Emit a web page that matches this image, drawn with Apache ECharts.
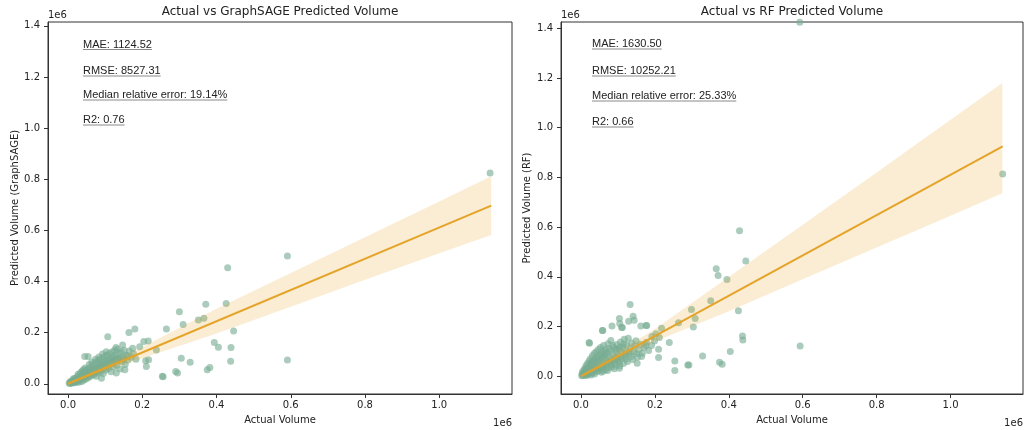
<!DOCTYPE html>
<html>
<head>
<meta charset="utf-8">
<script src="https://cdn.jsdelivr.net/npm/echarts@6/dist/echarts.min.js"></script>
<style>
  html, body { margin: 0; padding: 0; background: #fff; }
  #main { width: 1024px; height: 430px; }
</style>
</head>
<body>
<div id="main"></div>
<script>
// values are in units of 1e6 (matching the axis offset text)
const ticks = [0, 0.2, 0.4, 0.6, 0.8, 1.0];
const yTicks = [0, 0.2, 0.4, 0.6, 0.8, 1.0, 1.2, 1.4];

const sagePoints = [
    [0.003,0.002],[0.005,0.007],[0.006,0.001],[0.008,0.004],[0.009,0.011],[0.011,0.003],[0.012,0.008],[0.014,0.013],
    [0.015,0.005],[0.017,0.019],[0.018,0.010],[0.019,0.004],[0.021,0.016],[0.022,0.023],[0.024,0.008],[0.025,0.013],
    [0.026,0.029],[0.028,0.018],[0.029,0.006],[0.031,0.024],[0.032,0.012],[0.033,0.034],[0.035,0.019],[0.036,0.027],
    [0.037,0.009],[0.039,0.040],[0.040,0.022],[0.041,0.031],[0.043,0.015],[0.044,0.046],[0.045,0.027],[0.047,0.036],
    [0.048,0.019],[0.049,0.052],[0.051,0.031],[0.052,0.041],[0.054,0.024],[0.055,0.060],[0.056,0.035],[0.058,0.047],
    [0.059,0.028],[0.061,0.066],[0.062,0.040],[0.063,0.053],[0.065,0.033],[0.066,0.073],[0.068,0.045],[0.069,0.058],
    [0.071,0.037],[0.072,0.081],[0.073,0.050],[0.075,0.064],[0.076,0.029],[0.078,0.088],[0.079,0.055],[0.081,0.070],
    [0.082,0.043],[0.084,0.094],[0.086,0.061],[0.087,0.077],[0.089,0.048],[0.091,0.099],[0.092,0.066],[0.094,0.083],
    [0.095,0.040],[0.097,0.106],[0.099,0.071],[0.100,0.089],[0.102,0.054],[0.104,0.112],[0.105,0.077],[0.107,0.094],
    [0.109,0.060],[0.111,0.118],[0.112,0.083],[0.114,0.101],[0.116,0.047],[0.118,0.124],[0.119,0.088],[0.121,0.108],
    [0.123,0.066],[0.125,0.130],[0.127,0.094],[0.129,0.113],[0.131,0.072],[0.133,0.136],[0.136,0.099],[0.138,0.119],
    [0.140,0.058],[0.143,0.125],[0.145,0.087],[0.148,0.106],[0.151,0.131],[0.154,0.075],[0.157,0.112],[0.161,0.093],
    [0.165,0.128],[0.170,0.104],[0.176,0.118],[0.183,0.096],
    [0.010,0.007],[0.020,0.010],[0.030,0.017],[0.040,0.028],[0.050,0.038],[0.060,0.044],[0.070,0.051],[0.080,0.062],
    [0.090,0.072],[0.100,0.078],[0.110,0.090],[0.120,0.097],[0.130,0.100],[0.015,0.021],[0.027,0.037],[0.038,0.050],
    [0.046,0.062],[0.057,0.075],[0.064,0.085],[0.074,0.096],[0.083,0.105],[0.093,0.116],[0.103,0.125],[0.034,0.044],
    [0.042,0.056],[0.067,0.042],[0.077,0.047],[0.088,0.058],[0.098,0.064],[0.108,0.070],[0.117,0.078],[0.126,0.084],
    [0.135,0.090],[0.142,0.100],[0.150,0.096],[0.160,0.110],
    [0.045,0.107],[0.054,0.107],[0.090,0.022],[0.130,0.042],[0.153,0.055],[0.129,0.142],[0.147,0.152],[0.174,0.139],
    [0.193,0.145],[0.204,0.165],[0.216,0.167],[0.209,0.090],[0.217,0.094],[0.211,0.068],[0.238,0.132],[0.107,0.184],
    [0.164,0.201],[0.180,0.214],[0.265,0.214],[0.254,0.029],[0.256,0.027],[0.290,0.048],[0.295,0.042],[0.305,0.100],
    [0.329,0.084],[0.300,0.282],[0.310,0.232],[0.351,0.249],[0.366,0.256],[0.371,0.311],[0.426,0.314],[0.430,0.454],
    [0.375,0.055],[0.382,0.064],[0.394,0.161],[0.405,0.143],[0.439,0.142],[0.438,0.088],[0.446,0.206],[0.591,0.500],
    [0.591,0.093],[1.137,0.824]
];

const rfPoints = [
    [0.002,0.002],[0.003,0.009],[0.004,0.017],[0.005,0.004],[0.007,0.011],[0.008,0.026],[0.009,0.006],[0.010,0.015],
    [0.011,0.033],[0.012,0.009],[0.013,0.021],[0.014,0.044],[0.015,0.003],[0.016,0.013],[0.017,0.029],[0.018,0.052],
    [0.019,0.008],[0.020,0.020],[0.021,0.037],[0.022,0.062],[0.023,0.011],[0.024,0.026],[0.025,0.046],[0.026,0.071],
    [0.027,0.005],[0.028,0.017],[0.029,0.033],[0.030,0.056],[0.031,0.083],[0.032,0.013],[0.033,0.024],[0.034,0.041],
    [0.035,0.064],[0.036,0.092],[0.037,0.009],[0.038,0.030],[0.039,0.050],[0.040,0.073],[0.041,0.099],[0.043,0.019],
    [0.044,0.038],[0.045,0.058],[0.046,0.081],[0.047,0.108],[0.049,0.025],[0.050,0.045],[0.051,0.067],[0.052,0.090],
    [0.053,0.116],[0.055,0.016],[0.056,0.034],[0.057,0.054],[0.058,0.076],[0.059,0.100],[0.061,0.124],[0.062,0.042],
    [0.063,0.063],[0.064,0.085],[0.066,0.108],[0.067,0.027],[0.069,0.051],[0.070,0.071],[0.071,0.094],[0.073,0.131],
    [0.074,0.036],[0.076,0.059],[0.077,0.080],[0.079,0.104],[0.081,0.144],[0.082,0.046],[0.084,0.067],[0.086,0.090],
    [0.088,0.116],[0.090,0.031],[0.091,0.055],[0.093,0.076],[0.095,0.100],[0.097,0.128],[0.099,0.063],[0.101,0.084],
    [0.103,0.109],[0.105,0.043],[0.107,0.138],[0.109,0.071],[0.111,0.094],[0.113,0.118],[0.115,0.052],[0.117,0.149],
    [0.119,0.080],[0.121,0.102],[0.124,0.126],[0.126,0.060],[0.128,0.153],[0.131,0.089],[0.134,0.112],[0.137,0.134],
    [0.140,0.068],[0.143,0.099],[0.146,0.122],[0.149,0.143],[0.153,0.078],[0.157,0.106],[0.161,0.129],[0.166,0.093],
    [0.171,0.116],[0.177,0.137],[0.183,0.104],[0.191,0.124],[0.199,0.142],
    [0.010,0.004],[0.020,0.012],[0.030,0.020],[0.040,0.026],[0.050,0.034],[0.060,0.040],[0.070,0.048],[0.080,0.056],
    [0.090,0.064],[0.100,0.072],[0.110,0.080],[0.120,0.090],[0.130,0.098],[0.016,0.034],[0.026,0.050],[0.036,0.060],
    [0.046,0.070],[0.056,0.086],[0.066,0.095],[0.076,0.112],[0.086,0.124],[0.096,0.110],[0.106,0.118],[0.116,0.130],
    [0.060,0.020],[0.072,0.024],[0.084,0.038],[0.094,0.046],[0.104,0.058],[0.122,0.070],[0.136,0.080],[0.150,0.092],
    [0.022,0.136],[0.023,0.133],[0.058,0.184],[0.059,0.184],[0.084,0.202],[0.104,0.233],[0.105,0.213],[0.110,0.196],
    [0.112,0.196],[0.129,0.222],[0.133,0.289],[0.141,0.242],[0.144,0.226],[0.162,0.202],[0.176,0.204],[0.178,0.204],
    [0.152,0.053],[0.104,0.033],[0.164,0.080],[0.176,0.124],[0.192,0.160],[0.203,0.171],[0.210,0.109],[0.210,0.076],
    [0.212,0.156],[0.218,0.193],[0.239,0.136],[0.254,0.062],[0.254,0.024],[0.264,0.216],[0.289,0.046],[0.292,0.046],
    [0.299,0.269],[0.304,0.198],[0.309,0.233],[0.329,0.082],[0.351,0.304],[0.366,0.433],[0.371,0.406],[0.375,0.057],
    [0.382,0.049],[0.395,0.389],[0.404,0.100],[0.426,0.264],[0.429,0.586],[0.437,0.162],[0.438,0.146],[0.446,0.464],
    [0.593,0.122],[0.592,1.424],[1.141,0.814]
];

// regression fits and confidence bands
const sageFit = [[0, 0], [1.14, 0.697]];
const rfFit = [[0, 0], [1.141, 0.925]];
const bandX = [0, 0.2, 0.4, 0.6, 0.8, 1.0, 1.14];
const sageLow = [-0.004, 0.100, 0.197, 0.301, 0.407, 0.511, 0.582];
const sageHigh = [0.004, 0.144, 0.293, 0.433, 0.573, 0.713, 0.812];
const rfLow = [-0.006, 0.140, 0.262, 0.390, 0.518, 0.646, 0.736];
const rfHigh = [0.008, 0.190, 0.400, 0.610, 0.820, 1.032, 1.180];

const sageStats = ['MAE: 1124.52', 'RMSE: 8527.31', 'Median relative error: 19.14%', 'R2: 0.76'];
const rfStats = ['MAE: 1630.50', 'RMSE: 10252.21', 'Median relative error: 25.33%', 'R2: 0.66'];

const axisFont = 'DejaVu Sans';
const statFont = 'Liberation Sans';
const dotColor = '#78ac93';
const lineColor = '#e5a328';

const chart = echarts.init(document.getElementById('main'));

const makeX = (idx) => ({
    type: 'value', gridIndex: idx, min: -0.054, max: 1.196,
    name: 'Actual Volume', nameLocation: 'middle', nameGap: 21,
    nameTextStyle: { fontFamily: axisFont, fontSize: 10, color: '#222' },
    axisLine: { show: true, onZero: false, lineStyle: { color: '#333', width: 1 } },
    axisTick: { show: true, length: 4, customValues: ticks, lineStyle: { color: '#333' } },
    axisLabel: { customValues: ticks, margin: 6, fontFamily: axisFont, fontSize: 10, color: '#222',
        formatter: v => v.toFixed(1) },
    splitLine: { show: false }
});

const makeY = (idx, min, max, name, gap) => ({
    type: 'value', gridIndex: idx, min: min, max: max,
    name: name, nameLocation: 'middle', nameGap: gap,
    nameTextStyle: { fontFamily: axisFont, fontSize: 10, color: '#222' },
    axisLine: { show: true, onZero: false, lineStyle: { color: '#333', width: 1 } },
    axisTick: { show: true, length: 4, customValues: yTicks, lineStyle: { color: '#333' } },
    axisLabel: { customValues: yTicks, margin: 8, fontFamily: axisFont, fontSize: 10, color: '#222',
        formatter: v => v.toFixed(1) },
    splitLine: { show: false }
});

const bandSeries = (idx, lo, hi) => ({
    type: 'custom', xAxisIndex: idx, yAxisIndex: idx, silent: true, z: 3,
    data: [[0, 0]],
    renderItem: (params, api) => {
        const pts = [];
        for (let i = 0; i < bandX.length; i++) pts.push(api.coord([bandX[i], hi[i]]));
        for (let i = bandX.length - 1; i >= 0; i--) pts.push(api.coord([bandX[i], lo[i]]));
        return { type: 'polygon', shape: { points: pts }, style: { fill: 'rgba(230,165,40,0.2)' } };
    }
});

const scatterSeries = (idx, pts) => ({
    type: 'scatter', xAxisIndex: idx, yAxisIndex: idx, z: 2,
    symbolSize: 7, data: pts,
    itemStyle: { color: dotColor, opacity: 0.62 }
});

const fitSeries = (idx, pts) => ({
    type: 'line', xAxisIndex: idx, yAxisIndex: idx, z: 4,
    data: pts, showSymbol: false, symbol: 'none',
    lineStyle: { color: lineColor, width: 2 }
});

// stats text with underline
const ctx = document.createElement('canvas').getContext('2d');
ctx.font = '11px "' + statFont + '"';
const statGraphics = (x, ys, lines) => {
    const out = [];
    lines.forEach((t, i) => {
        const w = ctx.measureText(t).width;
        out.push({ type: 'text', left: x, top: ys[i] - 6, style: {
            text: t, fontFamily: statFont, fontSize: 11, fill: '#222' } });
        out.push({ type: 'line', shape: { x1: x, y1: ys[i] + 4.5, x2: x + w, y2: ys[i] + 4.5 },
            style: { stroke: '#8a8a8a', lineWidth: 1 } });
    });
    return out;
};

const label = (txt, x, y, align, size) => ({
    type: 'text', x: x, y: y,
    style: { text: txt, fontFamily: axisFont, fontSize: size, fill: '#222',
        align: align, verticalAlign: 'middle' }
});

const option = {
    animation: false,
    backgroundColor: '#fff',
    grid: [
        { left: 48, right: 512, top: 22, bottom: 34, show: true, borderColor: '#333', borderWidth: 1 },
        { left: 561, right: 1, top: 22, bottom: 34, show: true, borderColor: '#333', borderWidth: 1 }
    ],
    xAxis: [makeX(0), makeX(1)],
    yAxis: [
        makeY(0, -0.04, 1.415, 'Predicted Volume (GraphSAGE)', 27),
        makeY(1, -0.071, 1.425, 'Predicted Volume (RF)', 29)
    ],
    series: [
        scatterSeries(0, sagePoints),
        bandSeries(0, sageLow, sageHigh),
        fitSeries(0, sageFit),
        scatterSeries(1, rfPoints),
        bandSeries(1, rfLow, rfHigh),
        fitSeries(1, rfFit)
    ],
    graphic: [
        label('Actual vs GraphSAGE Predicted Volume', 280, 12, 'center', 12),
        label('Actual vs RF Predicted Volume', 792, 12, 'center', 12),
        label('1e6', 48, 15, 'left', 10),
        label('1e6', 561, 15, 'left', 10),
        label('1e6', 512, 423, 'right', 10),
        label('1e6', 1023, 423, 'right', 10),
        ...statGraphics(83, [45, 71.5, 95.5, 120.5], sageStats),
        ...statGraphics(592, [44.5, 71.5, 96.5, 122.5], rfStats)
    ]
};

chart.setOption(option);
</script>
</body>
</html>
